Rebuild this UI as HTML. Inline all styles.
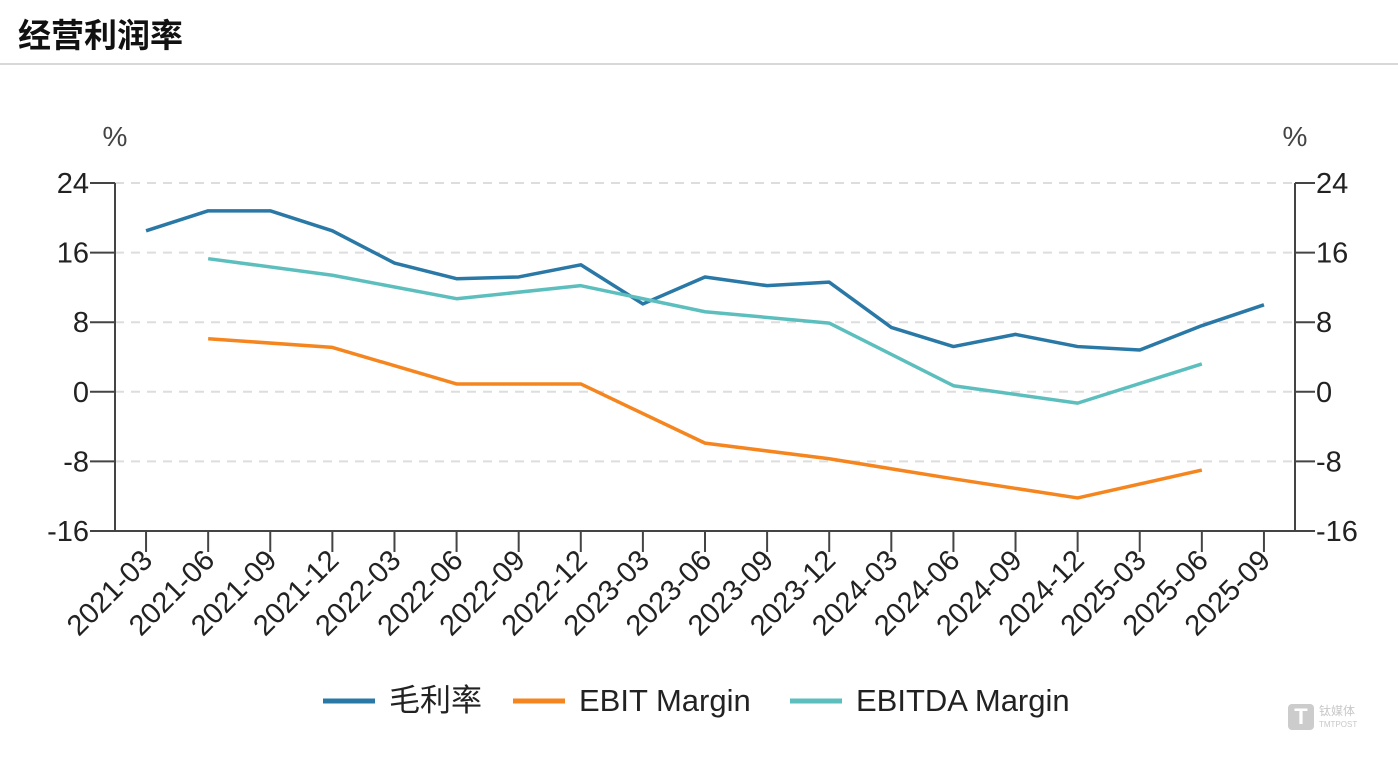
<!DOCTYPE html>
<html><head><meta charset="utf-8"><style>
body{margin:0;background:#fff;width:1398px;height:757px;overflow:hidden;font-family:"Liberation Sans","Noto Sans CJK SC",sans-serif}
</style></head><body>
<div style="position:absolute;left:18px;top:9px;font-size:33px;font-weight:bold;color:#111;font-family:'Liberation Sans','Noto Sans CJK SC',sans-serif">经营利润率</div>
<div style="position:absolute;left:0;top:63px;width:1398px;height:2px;background:#d8d8d8"></div>
<svg id="c" width="1398" height="757" style="position:absolute;left:0;top:0" font-family="Liberation Sans, Noto Sans CJK SC, sans-serif"></svg>
<div style="position:absolute;left:1288px;top:704px;width:26px;height:26px;background:#ccc;border-radius:4px;color:#fff;font-weight:bold;font-size:22px;text-align:center;line-height:26px">T</div>
<div style="position:absolute;left:1319px;top:705px;color:#c8c8c8;font-size:12px;line-height:12px">钛媒体<br><span style="font-size:8px">TMTPOST</span></div>
<script>
const categories=["2021-03","2021-06","2021-09","2021-12","2022-03","2022-06","2022-09","2022-12","2023-03","2023-06","2023-09","2023-12","2024-03","2024-06","2024-09","2024-12","2025-03","2025-06","2025-09"];
const grossMargin=[18.5,20.8,20.8,18.5,14.8,13.0,13.2,14.6,10.1,13.2,12.2,12.6,7.4,5.2,6.6,5.2,4.8,7.6,10.0];
const ebitMargin=[null,6.1,null,5.1,null,0.9,null,0.9,null,-5.9,null,-7.7,null,-10.0,null,-12.2,null,-9.0,null];
const ebitdaMargin=[null,15.3,null,13.4,null,10.7,null,12.2,null,9.2,null,7.9,null,0.7,null,-1.3,null,3.2,null];
const yTicks=[24,16,8,0,-8,-16];
const seriesNames=["毛利率","EBIT Margin","EBITDA Margin"];
const seriesColors=["#2a78a6","#f5861f","#5cbfbe"];

const svg=document.getElementById('c');const NS='http://www.w3.org/2000/svg';
function mk(t,a,p){const e=document.createElementNS(NS,t);for(const k in a)e.setAttribute(k,a[k]);(p||svg).appendChild(e);return e;}
const L=115,R=1295,T=183,B=531,yMin=-16,yMax=24;
const bw=(R-L)/categories.length;
const x=i=>L+bw*(i+0.5);
const y=v=>B-(v-yMin)/(yMax-yMin)*(B-T);
yTicks.forEach(v=>{
  if(v!==yMin){const g=mk('line',{x1:L,x2:R,y1:y(v),y2:y(v),stroke:'#ddd','stroke-width':2,'stroke-dasharray':'9,7'});
  }
  mk('line',{x1:L-25,x2:L,y1:y(v),y2:y(v),stroke:'#444','stroke-width':2});
  mk('line',{x1:R,x2:R+20,y1:y(v),y2:y(v),stroke:'#444','stroke-width':2});
  const t1=mk('text',{x:L-26,y:y(v)+10,'text-anchor':'end','font-size':29,fill:'#222'});t1.textContent=v;
  
  const t2=mk('text',{x:R+21,y:y(v)+10,'font-size':29,fill:'#222'});t2.textContent=v;
  
});
const ax=mk('path',{d:`M${L},${T}V${B}H${R}V${T}`,fill:'none',stroke:'#444','stroke-width':2});

[[L,'y-unit-left'],[R,'y-unit-right']].forEach(([px,n])=>{const u=mk('text',{x:px,y:146,'text-anchor':'middle','font-size':28,fill:'#444'});u.textContent='%';
});
categories.forEach((c,i)=>{
  mk('line',{x1:x(i),x2:x(i),y1:B,y2:B+21,stroke:'#444','stroke-width':2});
  const t=mk('text',{x:x(i)+8,y:B+31,'text-anchor':'end','font-size':29,fill:'#222',transform:`rotate(-45 ${x(i)+8} ${B+31})`});
  t.textContent=c;
});
[grossMargin,ebitMargin,ebitdaMargin].forEach((s,k)=>{
  const pts=[];s.forEach((v,i)=>{if(v!==null)pts.push(x(i)+','+y(v));});
  const p=mk('polyline',{points:pts.join(' '),fill:'none',stroke:seriesColors[k],'stroke-width':3.5,'stroke-linejoin':'round'});
  
});
const lx=[323,513,790];
seriesNames.forEach((n,k)=>{
  const g=mk('g',{});
  mk('line',{x1:lx[k],x2:lx[k]+52,y1:701,y2:701,stroke:seriesColors[k],'stroke-width':5},g);
  const t=mk('text',{x:lx[k]+66,y:711,'font-size':31,fill:'#222'},g);t.textContent=n;
});
</script>
</body></html>
